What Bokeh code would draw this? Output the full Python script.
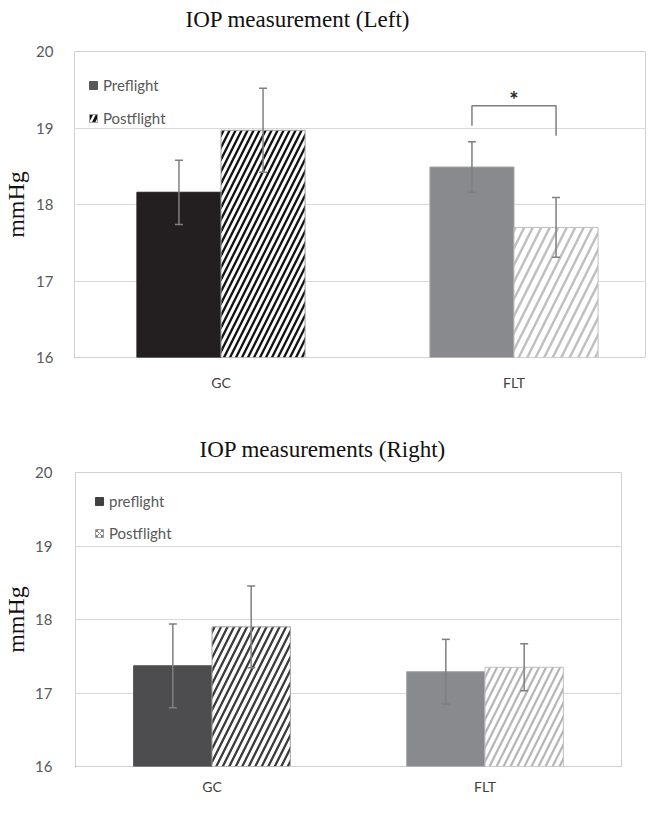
from bokeh.plotting import figure
from bokeh.models import Range1d, FixedTicker, Whisker, TeeHead, ColumnDataSource, Legend, LegendItem
from bokeh.core.properties import value
from bokeh.embed import file_html
from bokeh.resources import INLINE

# ---------------- data ----------------
categories = ["GC", "FLT"]

left_title = "IOP measurement (Left)"
left_pre = [18.16, 18.49]
left_pre_err = [0.42, 0.33]
left_post = [18.97, 17.70]
left_post_err = [0.55, 0.39]
left_legend = ["Preflight", "Postflight"]

right_title = "IOP measurements (Right)"
right_pre = [17.37, 17.29]
right_pre_err = [0.57, 0.44]
right_post = [17.90, 17.35]
right_post_err = [0.555, 0.32]
right_legend = ["preflight", "Postflight"]

y_ticks = [16, 17, 18, 19, 20]
y_label = "mmHg"

sig_bracket_y = [19.03, 19.29, 19.29, 18.90]
sig_star_y = 19.45
sig_label = "*"

# ---------------- style ----------------
W = 646
BAR_W = 0.287
OFF = 0.1435
TICK_FONT = "Lato"
SERIF = "Liberation Serif"
GRID = "#d9d9d9"
ERR = "#7f7f7f"


def title_strip(text, height, tx, ty):
    t = figure(width=W, height=height, output_backend="svg", toolbar_location=None,
               x_range=Range1d(0, W), y_range=Range1d(height, 0),
               x_axis_type=None, y_axis_type=None,
               min_border_left=0, min_border_right=0, min_border_top=0, min_border_bottom=0)
    t.outline_line_color = None
    t.grid.visible = False
    t.text(x=[tx], y=[ty], text=[text], text_font=value(SERIF), text_font_size="23px",
           text_color="#111111", text_align="left", text_baseline="alphabetic")
    return t


def make_chart(pre, pre_err, post, post_err, legend_labels, styles, geom):
    p = figure(width=W, height=geom["height"], output_backend="svg", toolbar_location=None,
               x_range=Range1d(0, geom["xmax"]), y_range=Range1d(y_ticks[0], y_ticks[-1]),
               min_border_left=geom["bl"], min_border_right=geom["br"],
               min_border_top=geom["bt"], min_border_bottom=geom["bb"])
    p.background_fill_color = "white"
    p.border_fill_color = "white"
    p.outline_line_color = "#d0d0d0"
    p.outline_line_width = 1

    n = len(categories)
    x_pre = [i + 0.5 - OFF for i in range(n)]
    x_post = [i + 0.5 + OFF for i in range(n)]

    for i in range(n):
        s = styles["pre"][i]
        p.vbar(x=[x_pre[i]], top=[pre[i]], bottom=y_ticks[0], width=BAR_W,
               fill_color=s["fill"], line_color=s["line"], line_width=1)
        s = styles["post"][i]
        p.vbar(x=[x_post[i]], top=[post[i]], bottom=y_ticks[0], width=BAR_W,
               fill_color="white", line_color=s["line"], line_width=1,
               hatch_pattern="/", hatch_color=s["hatch"], hatch_scale=s["scale"],
               hatch_weight=s["weight"])

    for xs, vals, errs in ((x_pre, pre, pre_err), (x_post, post, post_err)):
        src = ColumnDataSource(dict(x=xs,
                                    upper=[v + e for v, e in zip(vals, errs)],
                                    lower=[v - e for v, e in zip(vals, errs)]))
        w = Whisker(source=src, base="x", upper="upper", lower="lower", dimension="height",
                    line_color=ERR, line_width=1.5,
                    upper_head=TeeHead(size=8, line_color=ERR, line_width=1.5),
                    lower_head=TeeHead(size=8, line_color=ERR, line_width=1.5))
        w.level = "overlay"
        p.add_layout(w)

    # legend swatches (one off-range point each, only shown in the legend)
    lg = styles["legend"]
    r1 = p.vbar(x=[-5], top=[y_ticks[0]], bottom=y_ticks[0], width=0.1,
                fill_color=lg[0]["fill"], line_color=lg[0]["line"])
    r2 = p.vbar(x=[-5], top=[y_ticks[0]], bottom=y_ticks[0], width=0.1,
                fill_color="white", line_color=lg[1]["line"],
                hatch_pattern=lg[1]["pattern"], hatch_color=lg[1]["hatch"],
                hatch_scale=lg[1]["scale"], hatch_weight=lg[1]["weight"])
    legend = Legend(items=[LegendItem(label=legend_labels[0], renderers=[r1]),
                           LegendItem(label=legend_labels[1], renderers=[r2])],
                    location=geom["legloc"], padding=0, margin=0,
                    border_line_color=None, background_fill_alpha=0,
                    glyph_width=10, glyph_height=10, label_standoff=5,
                    label_height=20, spacing=geom["legsp"],
                    label_text_font=TICK_FONT, label_text_font_size="15px",
                    label_text_color="#595959")
    p.add_layout(legend)

    # axes
    p.xaxis.ticker = FixedTicker(ticks=[i + 0.5 for i in range(n)])
    p.xaxis.major_label_overrides = {i + 0.5: c for i, c in enumerate(categories)}
    p.xaxis.major_label_text_font = TICK_FONT
    p.xaxis.major_label_text_font_size = "14px"
    p.xaxis.major_label_text_color = "#404040"
    p.xaxis.major_label_standoff = geom["xstand"]
    p.yaxis.ticker = FixedTicker(ticks=y_ticks)
    p.yaxis.major_label_text_font = TICK_FONT
    p.yaxis.major_label_text_font_size = "15px"
    p.yaxis.major_label_text_color = "#595959"
    p.yaxis.major_label_standoff = geom["ystand"]
    p.yaxis.axis_label = y_label
    p.yaxis.axis_label_text_font = SERIF
    p.yaxis.axis_label_text_font_size = "24px"
    p.yaxis.axis_label_text_font_style = "normal"
    p.yaxis.axis_label_text_color = "#111111"
    p.yaxis.axis_label_standoff = geom["lstand"]
    for ax in (p.xaxis, p.yaxis):
        ax.axis_line_color = None
        ax.major_tick_line_color = None
        ax.minor_tick_line_color = None
    p.xgrid.visible = False
    p.ygrid.grid_line_color = GRID
    p.ygrid.grid_line_width = 1
    return p, x_pre, x_post


top_styles = dict(
    pre=[dict(fill="#231f20", line="#231f20"), dict(fill="#898a8d", line="#a6a6a6")],
    post=[dict(line="#a0a0a0", hatch="#111111", scale=12, weight=2.3),
          dict(line="#bfbfbf", hatch="#bfbfbf", scale=17, weight=2.4)],
    legend=[dict(fill="#595959", line="#595959"),
            dict(line="#a0a0a0", pattern="/", hatch="#111111", scale=12, weight=3)],
)
bot_styles = dict(
    pre=[dict(fill="#4d4d4f", line="#4d4d4f"), dict(fill="#898a8d", line="#a6a6a6")],
    post=[dict(line="#a0a0a0", hatch="#3a3a3a", scale=13, weight=2.3),
          dict(line="#bfbfbf", hatch="#b5b5b5", scale=14, weight=2.2)],
    legend=[dict(fill="#404040", line="#404040"),
            dict(line="#a0a0a0", pattern="x", hatch="#7f7f7f", scale=5, weight=1)],
)

title_top = title_strip(left_title, 41, 185, 19)

top, tx_pre, tx_post = make_chart(
    left_pre, left_pre_err, left_post, left_post_err, left_legend, top_styles,
    dict(height=379, xmax=572 / 293, bl=74, br=0, bt=10, bb=63,
         legloc=(14, 229), legsp=13, xstand=10, ystand=15, lstand=4))

# significance bracket between FLT bars
bx = [tx_pre[1], tx_pre[1], tx_post[1], tx_post[1]]
top.line(bx, sig_bracket_y, line_color=ERR, line_width=1.5)
top.text(x=[(tx_pre[1] + tx_post[1]) / 2], y=[sig_star_y], text=[sig_label],
         text_font=value(TICK_FONT), text_font_style="bold", text_font_size="22px",
         text_align="center", text_baseline="alphabetic", y_offset=6, text_color="#262626")

title_bottom = title_strip(right_title, 42, 199, 29)

bottom, _, _ = make_chart(
    right_pre, right_pre_err, right_post, right_post_err, right_legend, bot_styles,
    dict(height=335, xmax=2, bl=73, br=25, bt=10, bb=30,
         legloc=(19, 223), legsp=12, xstand=5, ystand=17, lstand=3))

open("out.html", "w").write(file_html([title_top, top, title_bottom, bottom], INLINE))
